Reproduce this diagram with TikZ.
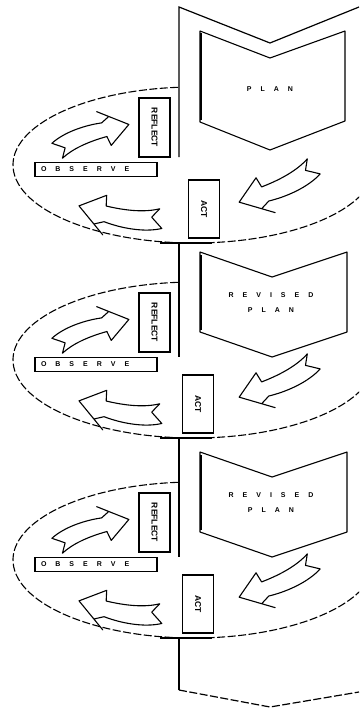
\documentclass[tikz,border=0pt]{standalone}
\usepackage{fontspec}
\newfontfamily\lblfont{Liberation Sans}
\usetikzlibrary{positioning}

\makeatletter
\newcommand\spreadword[1]{\spread@letters#1\relax\kern-9pt}
\def\spread@letters#1{\ifx#1\relax\else#1\kern9pt\expandafter\spread@letters\fi}
\makeatother

\tikzset{
  spiral/.style={line width=1.2pt},
  cycle ring/.style={line width=1.1pt, dash pattern=on 8pt off 2.5pt},
  plan page/.style={line width=1.1pt, line join=round},
  stage/.style={draw, line width=1.2pt, inner sep=0pt},
  small caps label/.style={font=\lblfont\bfseries\fontsize{7}{15}\selectfont},
  spine label/.style={font=\lblfont\bfseries\fontsize{8.5}{9}\selectfont},
  pics/cycle arrow/.style={code={
    \draw[x=1pt,y=1pt,line width=1.1pt,line join=round]
      (-2,7) .. controls (10,14) and (28,16) .. (42,15) -- (49,19) -- (40,25)
      -- (64,9) -- (46,-5) -- (44,3) .. controls (28,2) and (14,-1) .. (4,-7)
      -- (8,1) -- cycle;
  }},
}

\begin{document}
\begin{tikzpicture}[x=1pt,y=-1pt]
    \useasboundingbox (0,0) rectangle (359,709);
    \clip (0,0) rectangle (359,709);

    % Spiral band: left edge, top and bottom
    \draw[spiral] (179,157) -- (179,7) -- (270,43) -- (359,7);
    \draw[spiral] (179,243) -- (179,357);
    \draw[spiral] (179,438) -- (179,557);
    \draw[spiral] (179,638) -- (179,690);
    \draw[spiral, dash pattern=on 8pt off 2.5pt] (179,690) -- (270,707) -- (359,692);

    % First plan page
    \draw[plan page] (200,31) -- (270,58) -- (345,31) -- (345,121) -- (270,150) -- (200,122) -- cycle;
    \draw[line width=2.4pt] (201,33) -- (201,120);
    \node[small caps label] (plan) at (270,89) {\spreadword{PLAN}};

    % Revised plan pages
    \foreach \py/\i in {252/2, 452/3} {
        \draw[plan page] (200,\py) -- (272,\py+25) -- (347,\py) -- (347,\py+80) -- (272,\py+105) -- (200,\py+80) -- cycle;
        \draw[line width=2.4pt] (201,\py+3) -- (201,\py+78);
        \node[small caps label, align=center] (revplan\i) at (271,\py+50.5) {\spreadword{REVISED}\\\spreadword{PLAN}};
    }

    % Act - observe - reflect cycles
    \foreach \cy/\ax/\i in {165/188/1, 360/182/2, 560/182/3} {
        \draw[cycle ring] (194,\cy) ++(95:181pt and 78pt)
            arc[start angle=95, end angle=345, x radius=181pt, y radius=78pt];
        \draw[spiral] (160,\cy+78) -- (212,\cy+78);
        \node[stage, spine label, rotate=-90, minimum width=59pt, minimum height=31pt] (reflect\i) at (154.5,\cy-37.5) {REFLECT};
        \node[stage, small caps label, minimum height=14.5pt, text width=110pt, inner xsep=6pt, align=left] (observe\i) at (96,\cy+4.5) {\spreadword{OBSERVE}};
        \node[stage, spine label, rotate=-90, minimum width=58pt, minimum height=31pt] (act\i) at (\ax+16,\cy+44) {ACT};
        \pic[rotate=12, scale=1.2] at (56,\cy-14) {cycle arrow};
        \pic[rotate=163, scale=1.3] at (162,\cy+54) {cycle arrow};
        \pic[rotate=197.5, scale=1.3] at (315,\cy+1) {cycle arrow};
    }
\end{tikzpicture}
\end{document}
